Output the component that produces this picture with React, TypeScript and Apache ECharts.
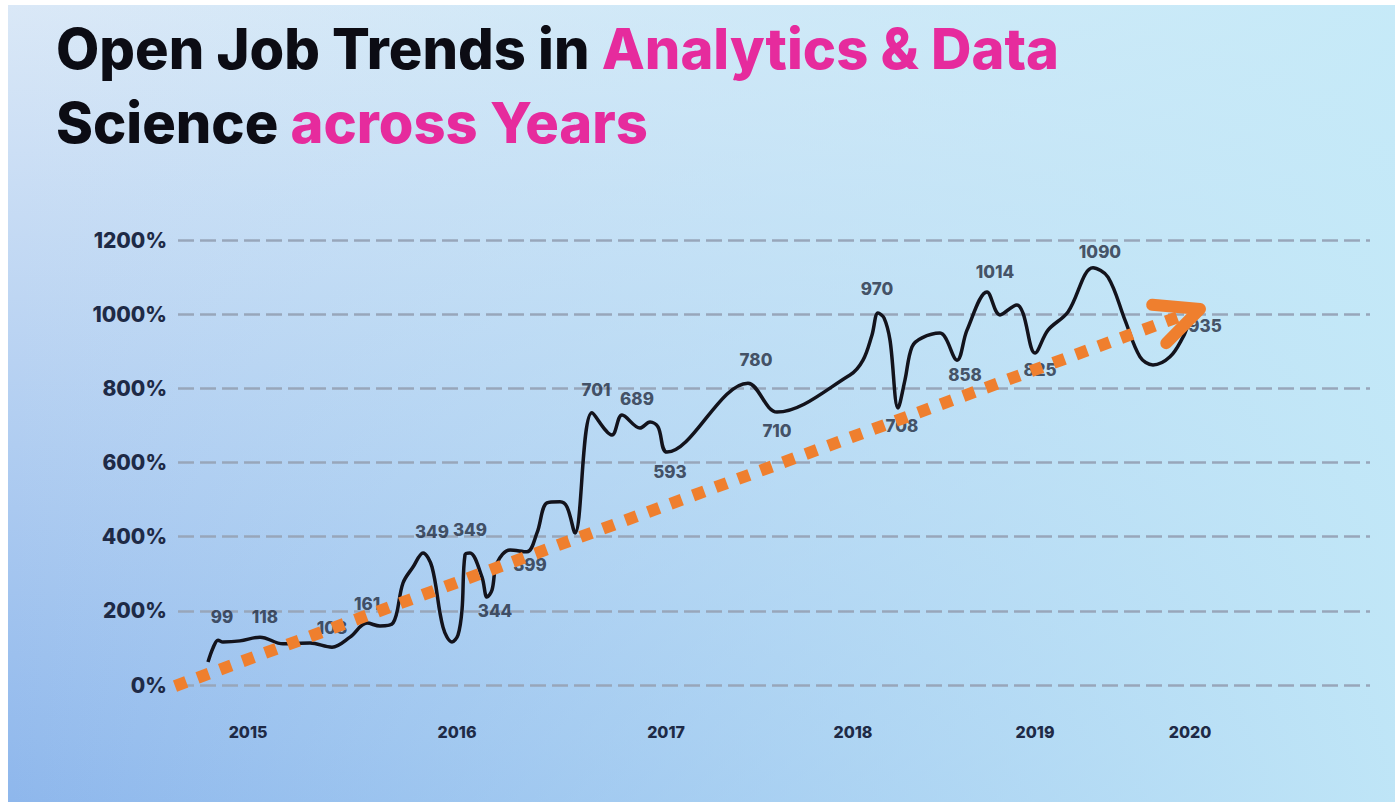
import React, { useEffect, useRef } from "react";
import * as echarts from "echarts";

// Black trend line: [position along timeline, open-job growth %]
const lineX = [3.0, 3.5, 4.0, 4.5, 6.2, 8.2, 10.5, 13.2, 15.4, 17.2, 18.9, 20.2, 21.5, 22.5, 23.5, 24.5, 25.4, 26.5, 27.4, 28.0, 28.4, 28.7, 29.2, 30.4, 30.9, 31.4, 31.9, 33.2, 34.9, 35.9, 36.9, 38.2, 38.9, 39.7, 41.4, 43.4, 44.4, 46.2, 47.2, 48.0, 48.9, 57.0, 59.9, 67.2, 68.5, 69.4, 70.0, 70.6, 71.2, 72.0, 72.7, 73.4, 74.4, 76.2, 77.9, 78.9, 80.9, 82.2, 83.9, 84.5, 85.7, 87.0, 89.0, 91.5, 93.0, 94.7, 96.2, 97.5, 99.2, 100.5, 101.0];
const lineY = [62, 100, 121, 116, 119, 129, 111, 113, 102, 129, 167, 159, 167, 275, 318, 356, 318, 156, 116, 135, 202, 351, 356, 291, 237, 256, 329, 364, 359, 410, 491, 494, 480, 410, 734, 674, 728, 693, 709, 696, 628, 814, 736, 836, 876, 944, 1003, 990, 930, 747, 823, 912, 936, 949, 876, 957, 1060, 998, 1025, 1003, 895, 957, 1006, 1125, 1100, 984, 885, 863, 885, 938, 971];

// Annotation labels
const annText = ["99", "118", "108", "161", "349", "349", "344", "399", "701", "689", "593", "780", "710", "970", "708", "858", "1014", "825", "1090", "935"];
const annX = [4.4, 8.7, 15.4, 18.9, 25.4, 29.2, 31.7, 35.2, 41.8, 45.9, 49.2, 57.8, 59.9, 69.9, 72.4, 78.7, 81.7, 86.2, 92.2, 102.7];
const annY = [183, 183, 154, 218, 413, 418, 200, 324, 796, 771, 574, 876, 685, 1068, 698, 836, 1114, 849, 1168, 968];

// Orange dotted trend arrow (start, tip)
const trendX = [-0.3, 102.2];
const trendY = [-3, 1014];

// Axis labels
const yearLabels = ["2015", "2016", "2017", "2018", "2019", "2020"];
const yearPos = [7.0, 27.9, 48.8, 67.5, 85.7, 101.2];
const yMin = 0;
const yMax = 1200;
const yStep = 200;

const ORANGE = "#ef7f2e";

export default function App() {
  const ref = useRef<HTMLDivElement>(null);
  useEffect(() => {
    if (!ref.current) return;
    const chart = echarts.init(ref.current, null, { renderer: "svg" });
    const font = "Inter, 'Open Sans', sans-serif";
    const titleRich = {
      b: { fill: "#0c0c14", fontSize: 56, fontWeight: 800, fontFamily: font },
      p: { fill: "#e62b9d", fontSize: 56, fontWeight: 800, fontFamily: font },
    };
    chart.setOption({
      animation: false,
      backgroundColor: "#ffffff",
      grid: { left: 178, right: 25, top: 240, bottom: 117, containLabel: false },
      graphic: [
        {
          type: "rect",
          z: -100,
          shape: { x: 8, y: 5, width: 1387, height: 797 },
          style: {
            fill: new echarts.graphic.LinearGradient(0, 0, 0, 1, [
              { offset: 0, color: "#dae8f7" },
              { offset: 1, color: "#8eb7ec" },
            ]),
          },
        },
        {
          type: "rect",
          z: -99,
          shape: { x: 8, y: 5, width: 1387, height: 797 },
          style: {
            fill: new echarts.graphic.LinearGradient(0, 0, 1, 0, [
              { offset: 0, color: "rgba(196,234,248,0)" },
              { offset: 1, color: "rgba(196,234,248,0.9)" },
            ]),
          },
        },
        {
          type: "text",
          z: 100,
          left: 56,
          top: 21,
          style: { text: "{b|Open Job Trends in }{p|Analytics & Data}", rich: titleRich },
        },
        {
          type: "text",
          z: 100,
          left: 56,
          top: 95,
          style: { text: "{b|Science }{p|across Years}", rich: titleRich },
        },
      ],
      xAxis: {
        type: "value",
        min: 0,
        max: 119.2,
        axisLine: { show: false },
        axisTick: { show: false },
        splitLine: { show: false },
        axisLabel: {
          customValues: yearPos,
          margin: 39,
          fontSize: 16,
          fontWeight: 800,
          fontFamily: font,
          color: "#1e2a46",
          formatter: (v: number) => {
            let best = 0;
            for (let i = 0; i < yearPos.length; i++) {
              if (Math.abs(yearPos[i] - v) < Math.abs(yearPos[best] - v)) best = i;
            }
            return yearLabels[best];
          },
        },
      },
      yAxis: {
        type: "value",
        min: yMin,
        max: yMax,
        interval: yStep,
        axisLine: { show: false },
        axisTick: { show: false },
        axisLabel: {
          formatter: (v: number) => String(v) + "%",
          margin: 11,
          fontSize: 21,
          fontWeight: 800,
          fontFamily: font,
          color: "#1e2a46",
        },
        splitLine: {
          lineStyle: { color: "#98a6ba", width: 2.5, type: [16, 6] },
        },
      },
      series: [
        {
          type: "line",
          z: 3,
          data: lineX.map((x, i) => [x, lineY[i]]),
          smooth: 0.35,
          symbol: "none",
          lineStyle: { color: "#13131c", width: 3.5 },
        },
        {
          type: "scatter",
          z: 4,
          symbolSize: 0,
          data: annX.map((x, i) => ({ value: [x, annY[i]], name: annText[i] })),
          label: {
            show: true,
            position: "inside",
            formatter: (p: any) => p.name,
            fontSize: 17,
            fontWeight: 800,
            fontFamily: font,
            color: "#232c40",
          },
        },
        {
          type: "custom",
          z: 10,
          clip: false,
          encode: { x: [0, 2], y: [1, 3] },
          data: [[trendX[0], trendY[0], trendX[1], trendY[1]]],
          renderItem: (params: any, api: any) => {
            const a = api.coord([api.value(0), api.value(1)]);
            const b = api.coord([api.value(2), api.value(3)]);
            const ang = Math.atan2(a[1] - b[1], a[0] - b[0]);
            const len = 48;
            const spread = 0.44;
            const p1 = [b[0] + len * Math.cos(ang - spread), b[1] + len * Math.sin(ang - spread)];
            const p2 = [b[0] + len * Math.cos(ang + spread), b[1] + len * Math.sin(ang + spread)];
            const lineEnd = [b[0] + 14 * Math.cos(ang), b[1] + 14 * Math.sin(ang)];
            return {
              type: "group",
              children: [
                {
                  type: "line",
                  shape: { x1: a[0], y1: a[1], x2: lineEnd[0], y2: lineEnd[1] },
                  style: { stroke: ORANGE, lineWidth: 12, lineDash: [12, 12], lineCap: "butt" },
                },
                {
                  type: "polyline",
                  shape: { points: [p1, b, p2] },
                  style: { stroke: ORANGE, fill: null, lineWidth: 12, lineCap: "round", lineJoin: "round" },
                },
              ],
            };
          },
        },
      ],
    });
    return () => chart.dispose();
  }, []);
  return (
    <div
      ref={ref}
      style={{ position: "fixed", left: 0, top: 0, width: 1395, height: 802 }}
    />
  );
}
